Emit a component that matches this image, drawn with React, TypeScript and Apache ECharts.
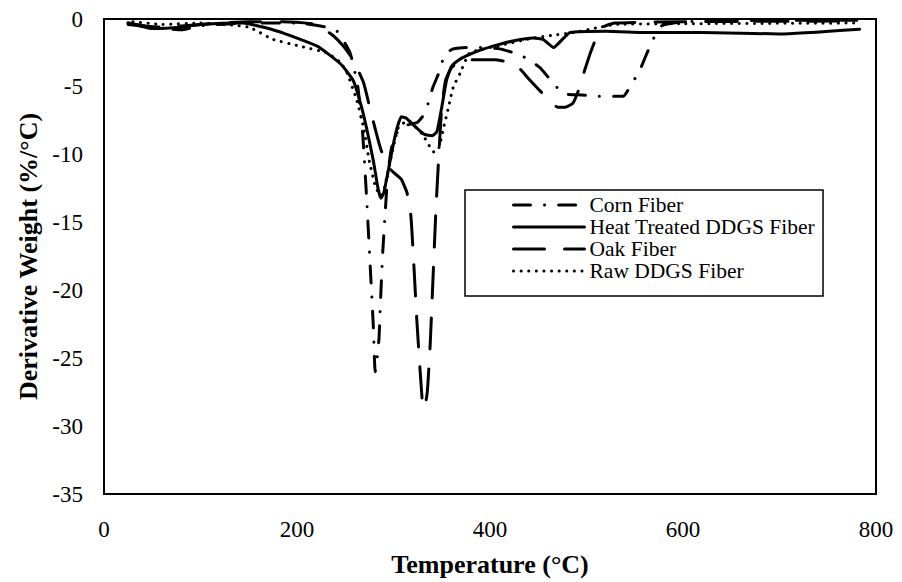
import React, { useEffect, useRef } from "react";
import * as echarts from "echarts";

// Derivative thermogravimetric (DTG) curves, temperature in °C vs. %/°C
const cornTemp = [25, 50, 80, 100, 150, 200, 240, 255, 263, 268, 272, 276, 279, 281, 283, 285, 287, 289, 291, 294, 298, 305, 315, 325, 332, 336, 341, 348, 353, 362, 375, 390, 410, 425, 438, 452, 464, 476, 495, 512, 538, 545, 555, 561, 569, 578, 600, 700, 780];
const cornDtg = [-0.3, -0.6, -0.8, -0.5, -0.3, -0.3, -0.8, -2.5, -5.0, -8.4, -13.0, -18.4, -22.5, -26.0, -25.0, -23.5, -20.0, -17.0, -14.7, -11.5, -9.5, -8.2, -7.8, -7.6, -7.0, -6.2, -5.0, -3.8, -2.6, -2.2, -2.1, -2.1, -2.2, -2.5, -2.9, -3.6, -4.6, -5.5, -5.6, -5.7, -5.7, -5.0, -3.8, -2.8, -1.5, -0.5, -0.2, -0.1, -0.1];

const heatTemp = [25, 50, 80, 100, 144, 180, 221, 245, 258, 265, 272, 279, 284, 287, 290, 295, 302, 308, 313, 322, 332, 340, 345, 350, 355, 360, 368, 376, 390, 403, 425, 445, 455, 466, 475, 483, 520, 566, 620, 700, 783];
const heatDtg = [-0.3, -0.7, -0.6, -0.4, -0.3, -0.9, -2.0, -3.3, -4.5, -6.0, -8.0, -10.4, -12.5, -13.2, -12.8, -11.0, -8.5, -7.2, -7.3, -7.9, -8.5, -8.6, -8.3, -6.5, -4.5, -3.5, -3.0, -2.7, -2.3, -2.0, -1.6, -1.4, -1.5, -2.1, -1.5, -1.0, -0.9, -1.0, -1.0, -1.1, -0.75];

const oakTemp = [25, 60, 100, 150, 185, 220, 237, 248, 258, 269, 276, 286, 293, 300, 308, 314, 318, 321, 324, 327, 330, 332, 335, 338, 341, 344, 347, 350, 354, 360, 370, 385, 405, 420, 430, 440, 452, 462, 470, 478, 486, 492, 498, 504, 510, 517, 530, 600, 780];
const oakDtg = [-0.4, -0.6, -0.4, -0.2, -0.2, -0.4, -1.2, -2.0, -3.0, -4.7, -6.7, -9.4, -10.8, -11.3, -11.8, -12.8, -14.5, -18.0, -22.0, -25.3, -28.3, -28.7, -27.5, -24.0, -19.0, -14.0, -10.0, -6.5, -4.5, -3.6, -3.1, -3.0, -3.0, -3.2, -3.6, -4.4, -5.3, -6.0, -6.5, -6.5, -6.2, -5.2, -3.8, -2.5, -1.4, -0.6, -0.3, -0.2, -0.15];

const rawTemp = [30, 60, 100, 150, 175, 203, 231, 245, 252, 262, 269, 275, 282, 288, 295, 305, 315, 330, 342, 347, 352, 357, 362, 369, 379, 407, 445, 465, 486, 514, 530, 600, 780];
const rawDtg = [-0.2, -0.4, -0.3, -0.6, -1.5, -2.0, -2.5, -3.2, -4.0, -6.0, -8.0, -10.5, -12.5, -13.0, -11.0, -8.0, -7.5, -8.5, -9.8, -9.5, -8.0, -6.5, -5.0, -4.0, -2.5, -2.0, -1.4, -1.2, -1.0, -0.6, -0.4, -0.35, -0.3];

const seriesNames = ["Corn Fiber", "Heat Treated DDGS Fiber", "Oak Fiber", "Raw DDGS Fiber"];
const yTicks = { min: -35, max: 0, interval: 5 };
const xTicks = { min: 0, max: 800, interval: 200 };

const FONT = "'Liberation Serif', 'Times New Roman', serif";

function pairs(xs: number[], ys: number[]) {
  return xs.map((x, i) => [x, ys[i]]);
}

export default function App() {
  const ref = useRef<HTMLDivElement>(null);

  useEffect(() => {
    if (!ref.current) return;
    const chart = echarts.init(ref.current, undefined, { renderer: "svg" });

    const base = {
      type: "line" as const,
      symbol: "none",
      smooth: 0.15,
      color: "#000",
    };

    chart.setOption({
      animation: false,
      backgroundColor: "#fff",
      grid: {
        left: 104,
        right: 26,
        top: 19,
        bottom: 88,
        show: true,
        borderColor: "#000",
        borderWidth: 2,
        backgroundColor: "transparent",
      },
      xAxis: {
        type: "value",
        min: xTicks.min,
        max: xTicks.max,
        interval: xTicks.interval,
        name: "Temperature (°C)",
        nameLocation: "middle",
        nameGap: 57,
        nameTextStyle: { fontFamily: FONT, fontSize: 26, fontWeight: "bold", color: "#000" },
        axisLine: { show: true, onZero: false, lineStyle: { color: "#000", width: 2 } },
        axisTick: { show: false },
        splitLine: { show: false },
        axisLabel: { fontFamily: FONT, fontSize: 23, color: "#000", margin: 24 },
      },
      yAxis: {
        type: "value",
        min: yTicks.min,
        max: yTicks.max,
        interval: yTicks.interval,
        name: "Derivative Weight (%/°C)",
        nameLocation: "middle",
        nameGap: 57,
        nameRotate: 90,
        nameTextStyle: { fontFamily: FONT, fontSize: 26, fontWeight: "bold", color: "#000" },
        axisLine: { show: true, onZero: false, lineStyle: { color: "#000", width: 2 } },
        axisTick: { show: false },
        splitLine: { show: false },
        axisLabel: { fontFamily: FONT, fontSize: 23, color: "#000", margin: 21 },
      },
      legend: {
        orient: "vertical",
        left: 465,
        top: 190,
        data: seriesNames,
        borderColor: "#000",
        borderWidth: 1.5,
        padding: [4, 8, 14, 47],
        itemWidth: 71,
        itemHeight: 14,
        itemGap: 0,
        itemStyle: { opacity: 0 },
        lineStyle: { width: 3 },
        textStyle: { fontFamily: FONT, fontSize: 21.5, color: "#000", lineHeight: 21 },
      },
      series: [
        {
          ...base,
          name: seriesNames[0],
          data: pairs(cornTemp, cornDtg),
          lineStyle: { color: "#000", width: 3, type: [17, 14, 0.1, 14], cap: "round" },
        },
        {
          ...base,
          name: seriesNames[1],
          data: pairs(heatTemp, heatDtg),
          lineStyle: { color: "#000", width: 3, type: "solid", cap: "round" },
        },
        {
          ...base,
          name: seriesNames[2],
          data: pairs(oakTemp, oakDtg),
          lineStyle: { color: "#000", width: 3, type: [31, 20], cap: "round" },
        },
        {
          ...base,
          name: seriesNames[3],
          data: pairs(rawTemp, rawDtg),
          lineStyle: { color: "#000", width: 3, type: [0.1, 7.5], cap: "round" },
        },
      ],
    });

    return () => chart.dispose();
  }, []);

  return <div ref={ref} style={{ width: 902, height: 582, position: "absolute", left: 0, top: 0 }} />;
}
